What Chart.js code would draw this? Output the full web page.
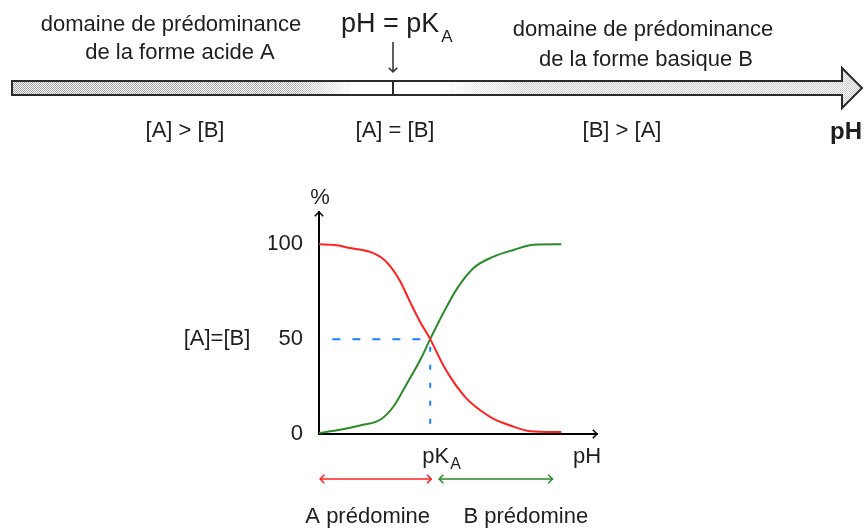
<!DOCTYPE html>
<html lang="fr">
<head>
<meta charset="utf-8"/>
<title>Domaines de prédominance acide / base</title>
<script src="https://cdn.jsdelivr.net/npm/chart.js"></script>
<style>
  body { margin: 0; background: #fff; }
  canvas { display: block; }
</style>
</head>
<body>
<canvas id="chart" width="865" height="528"></canvas>
<script>
  // valeurs (pH en abscisse, % en ordonnée)
  const pKa = 5;
  const phRouge  = [0, 0.8, 1.4, 2.3, 2.8, 3.2, 3.65, 4.1, 4.55, 5, 5.6, 6.05, 6.65, 7.25, 7.85, 8.6, 9.5, 10.9];
  const pctRouge = [100, 99.5, 98, 96, 93, 88.5, 80.5, 69.5, 59, 50, 36, 27.5, 18.5, 12.5, 8, 4.5, 1.5, 1];
  const phVert   = [0, 0.8, 1.85, 2.75, 3.35, 3.95, 4.55, 5, 5.6, 6.2, 6.95, 7.85, 8.75, 9.65, 10.9];
  const pctVert  = [0.5, 2, 4.5, 7.5, 14.5, 26.5, 39, 50, 64, 76.5, 87.5, 93.5, 97, 99.8, 100];
  const yTicks = [0, 50, 100];
  const horizX = [0.6, pKa], horizY = [50, 50];
  const vertX = [pKa, pKa], vertY = [46, 0];

  const POLICE = "'Liberation Sans', Arial, sans-serif";
  const ENCRE = '#1e1e1e';

  const pts = (xs, ys) => xs.map((x, i) => ({ x: x, y: ys[i] }));

  function chevron(ctx, x1, y1, x2, y2, t) {
    const a = Math.atan2(y2 - y1, x2 - x1);
    ctx.beginPath();
    ctx.moveTo(x2 - t * Math.cos(a - Math.PI / 4), y2 - t * Math.sin(a - Math.PI / 4));
    ctx.lineTo(x2, y2);
    ctx.lineTo(x2 - t * Math.cos(a + Math.PI / 4), y2 - t * Math.sin(a + Math.PI / 4));
    ctx.stroke();
  }

  function texte(ctx, s, x, y, taille, align, gras) {
    ctx.font = (gras ? 'bold ' : '') + taille + 'px ' + POLICE;
    ctx.textAlign = align || 'center';
    ctx.textBaseline = 'middle';
    ctx.fillText(s, x, y);
  }

  function barreHaut(ctx) {
    const x0 = 12, x1 = 842, y0 = 81, y1 = 95, pointe = 862, hH = 68, hB = 108, yc = 88;
    const contour = () => {
      ctx.beginPath();
      ctx.moveTo(x0, y0); ctx.lineTo(x1, y0); ctx.lineTo(x1, hH); ctx.lineTo(pointe, yc);
      ctx.lineTo(x1, hB); ctx.lineTo(x1, y1); ctx.lineTo(x0, y1); ctx.closePath();
    };
    const motif = document.createElement('canvas');
    motif.width = 2; motif.height = 2;
    const m = motif.getContext('2d');
    m.fillStyle = '#fff'; m.fillRect(0, 0, 2, 2);
    m.fillStyle = '#a0a0a0'; m.fillRect(0, 0, 1, 1); m.fillRect(1, 1, 1, 1);
    ctx.save();
    contour(); ctx.clip();
    ctx.fillStyle = ctx.createPattern(motif, 'repeat');
    ctx.fillRect(x0, hH, pointe - x0, hB - hH);
    const L = pointe - x0;
    const g = ctx.createLinearGradient(x0, 0, pointe, 0);
    g.addColorStop(0, 'rgba(255,255,255,0)');
    g.addColorStop((290 - x0) / L, 'rgba(255,255,255,0.1)');
    g.addColorStop((352 - x0) / L, 'rgba(255,255,255,1)');
    g.addColorStop((440 - x0) / L, 'rgba(255,255,255,1)');
    g.addColorStop((530 - x0) / L, 'rgba(255,255,255,0.45)');
    g.addColorStop(1, 'rgba(255,255,255,0.45)');
    ctx.fillStyle = g;
    ctx.fillRect(x0, hH, L, hB - hH);
    ctx.restore();
    ctx.strokeStyle = '#2a2a2a';
    ctx.lineWidth = 2;
    contour(); ctx.stroke();
    ctx.beginPath(); ctx.moveTo(393, y0); ctx.lineTo(393, y1); ctx.stroke();
    // flèche vers pKa
    ctx.lineWidth = 1.5;
    ctx.beginPath(); ctx.moveTo(393, 42); ctx.lineTo(393, 72); ctx.stroke();
    chevron(ctx, 393, 42, 393, 72, 6);

    ctx.fillStyle = ENCRE;
    texte(ctx, 'domaine de prédominance', 171, 25, 22);
    texte(ctx, 'de la forme acide A', 180, 53, 22);
    texte(ctx, 'domaine de prédominance', 643, 30, 22);
    texte(ctx, 'de la forme basique B', 646, 60, 22);
    texte(ctx, 'pH = pK', 341, 25, 27, 'left');
    const w = ctx.measureText('pH = pK').width;
    texte(ctx, 'A', 341 + w + 2, 37, 17, 'left');
    texte(ctx, '[A] > [B]', 185, 131, 22);
    texte(ctx, '[A] = [B]', 395, 131, 22);
    texte(ctx, '[B] > [A]', 622, 131, 22);
    texte(ctx, 'pH', 862, 132, 24, 'right', true);
  }

  const decor = {
    id: 'decor',
    afterDraw(chart) {
      const ctx = chart.ctx;
      const sx = chart.scales.x, sy = chart.scales.y;
      const ox = sx.getPixelForValue(0), oy = sy.getPixelForValue(0);
      const top = chart.chartArea.top, right = chart.chartArea.right;
      ctx.save();
      ctx.strokeStyle = '#000';
      ctx.lineWidth = 1.5;
      chevron(ctx, ox, oy, ox, top, 6);
      chevron(ctx, ox, oy, right, oy, 6);

      ctx.fillStyle = ENCRE;
      texte(ctx, '%', ox + 1, top - 14, 22);
      texte(ctx, '[A]=[B]', 217, sy.getPixelForValue(50), 22);
      const xk = sx.getPixelForValue(pKa);
      texte(ctx, 'pK', xk - 8, oy + 23, 22, 'left');
      texte(ctx, 'A', xk + 20, oy + 31, 16, 'left');
      texte(ctx, 'pH', right - 10, oy + 23, 22);

      // domaines sous l'axe
      const yf = oy + 45;
      ctx.lineWidth = 1.5;
      ctx.strokeStyle = '#ff2020';
      const a0 = sx.getPixelForValue(0.05), a1 = sx.getPixelForValue(pKa + 0.05);
      ctx.beginPath(); ctx.moveTo(a0, yf); ctx.lineTo(a1, yf); ctx.stroke();
      chevron(ctx, a1, yf, a0, yf, 6); chevron(ctx, a0, yf, a1, yf, 6);
      ctx.strokeStyle = '#2a8a2a';
      const b0 = sx.getPixelForValue(pKa + 0.4), b1 = sx.getPixelForValue(10.5);
      ctx.beginPath(); ctx.moveTo(b0, yf); ctx.lineTo(b1, yf); ctx.stroke();
      chevron(ctx, b1, yf, b0, yf, 6); chevron(ctx, b0, yf, b1, yf, 6);
      ctx.fillStyle = ENCRE;
      texte(ctx, 'A prédomine', (a0 + a1) / 2 - 8, oy + 83, 22);
      texte(ctx, 'B prédomine', (b0 + b1) / 2 + 30, oy + 83, 22);

      barreHaut(ctx);
      ctx.restore();
    }
  };

  new Chart(document.getElementById('chart'), {
    type: 'scatter',
    data: {
      datasets: [
        { label: 'A', data: pts(phRouge, pctRouge), borderColor: '#ff2020', borderWidth: 2,
          showLine: true, pointRadius: 0, cubicInterpolationMode: 'monotone' },
        { label: 'B', data: pts(phVert, pctVert), borderColor: '#2a8a2a', borderWidth: 2,
          showLine: true, pointRadius: 0, cubicInterpolationMode: 'monotone' },
        { label: '50 %', data: pts(horizX, horizY), borderColor: '#1a80ff', borderWidth: 2,
          borderDash: [8, 12], showLine: true, pointRadius: 0 },
        { label: 'pKa', data: pts(vertX, vertY), borderColor: '#1a80ff', borderWidth: 2,
          borderDash: [5, 13], showLine: true, pointRadius: 0 }
      ]
    },
    options: {
      responsive: false,
      animation: false,
      layout: { padding: { left: 269, right: 268, top: 212, bottom: 94 } },
      plugins: { legend: { display: false }, tooltip: { enabled: false } },
      scales: {
        x: {
          type: 'linear', min: 0, max: 12.5,
          grid: { display: false, drawTicks: false },
          border: { display: true, color: '#000', width: 2 },
          ticks: { display: false },
          afterFit: (s) => { s.height = 0; }
        },
        y: {
          min: 0, max: 117,
          grid: { display: false, drawTicks: false },
          border: { display: true, color: '#000', width: 2 },
          afterBuildTicks: (s) => { s.ticks = yTicks.map(v => ({ value: v })); },
          ticks: { color: ENCRE, padding: 16, font: { size: 22, family: POLICE } },
          afterFit: (s) => { s.width = 50; }
        }
      }
    },
    plugins: [decor]
  });
</script>
</body>
</html>
